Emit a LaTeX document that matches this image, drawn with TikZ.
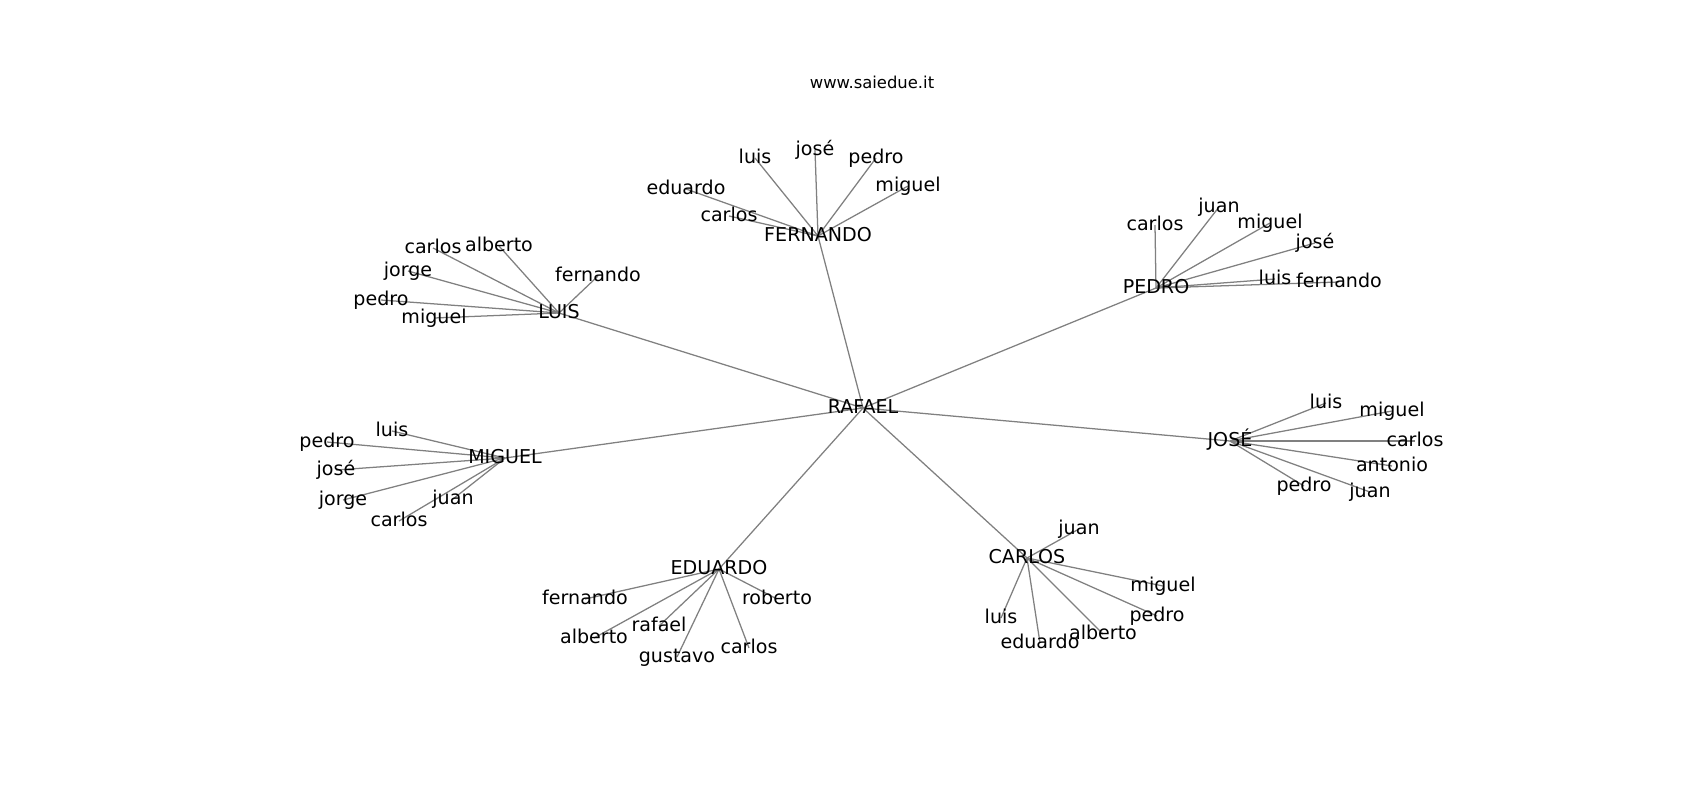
\documentclass[tikz,border=0pt]{standalone}
\usepackage{fontspec}
\setmainfont{DejaVu Sans}
\pgfdeclarelayer{bg}
\pgfsetlayers{bg,main}
\definecolor{edgegray}{RGB}{128,128,128}
\tikzset{
  lbl/.style={font=\fontsize{14.3}{17}\selectfont, text height=10.9pt, text depth=3.0pt, inner sep=0pt, anchor=center},
  ttl/.style={font=\fontsize{12.3}{15}\selectfont, text height=9.4pt, text depth=2.5pt, inner sep=0pt, anchor=center},
  edge/.style={draw=edgegray, line width=0.95pt}
}
\begin{document}
\begin{tikzpicture}[x=0.75pt,y=-0.75pt]
\useasboundingbox (0,0) rectangle (1700,800);
\node[ttl] (title) at (872,84) {www.saiedue.it};
% hubs
\node[lbl] (raf) at (863,408) {RAFAEL};
\node[lbl] (fer) at (818,236) {FERNANDO};
\node[lbl] (ped) at (1156,288) {PEDRO};
\node[lbl] (lui) at (559,313) {LUIS};
\node[lbl] (mig) at (505,458) {MIGUEL};
\node[lbl] (jos) at (1230,441) {JOSÉ};
\node[lbl] (edu) at (719,569) {EDUARDO};
\node[lbl] (car) at (1027,558) {CARLOS};
% FERNANDO leaves
\node[lbl] (fer1) at (755,158) {luis};
\node[lbl] (fer2) at (815,150) {josé};
\node[lbl] (fer3) at (876,158) {pedro};
\node[lbl] (fer4) at (908,186) {miguel};
\node[lbl] (fer5) at (686,189) {eduardo};
\node[lbl] (fer6) at (729,216) {carlos};
% PEDRO leaves
\node[lbl] (ped1) at (1155,225) {carlos};
\node[lbl] (ped2) at (1219,207) {juan};
\node[lbl] (ped3) at (1270,223) {miguel};
\node[lbl] (ped4) at (1315,243) {josé};
\node[lbl] (ped5) at (1275,279) {luis};
\node[lbl] (ped6) at (1339,282) {fernando};
% LUIS leaves
\node[lbl] (lui1) at (433,248) {carlos};
\node[lbl] (lui2) at (499,246) {alberto};
\node[lbl] (lui3) at (408,271) {jorge};
\node[lbl] (lui4) at (381,300) {pedro};
\node[lbl] (lui5) at (434,318) {miguel};
\node[lbl] (lui6) at (598,276) {fernando};
% MIGUEL leaves
\node[lbl] (mig1) at (392,431) {luis};
\node[lbl] (mig2) at (327,442) {pedro};
\node[lbl] (mig3) at (336,470) {josé};
\node[lbl] (mig4) at (343,500) {jorge};
\node[lbl] (mig5) at (453,499) {juan};
\node[lbl] (mig6) at (399,521) {carlos};
% JOSE leaves
\node[lbl] (jos1) at (1326,403) {luis};
\node[lbl] (jos2) at (1392,411) {miguel};
\node[lbl] (jos3) at (1415,441) {carlos};
\node[lbl] (jos4) at (1392,466) {antonio};
\node[lbl] (jos5) at (1304,486) {pedro};
\node[lbl] (jos6) at (1370,492) {juan};
% EDUARDO leaves
\node[lbl] (edu1) at (585,599) {fernando};
\node[lbl] (edu2) at (777,599) {roberto};
\node[lbl] (edu3) at (659,626) {rafael};
\node[lbl] (edu4) at (594,638) {alberto};
\node[lbl] (edu5) at (677,657) {gustavo};
\node[lbl] (edu6) at (749,648) {carlos};
% CARLOS leaves
\node[lbl] (car1) at (1079,529) {juan};
\node[lbl] (car2) at (1163,586) {miguel};
\node[lbl] (car3) at (1157,616) {pedro};
\node[lbl] (car4) at (1001,618) {luis};
\node[lbl] (car5) at (1040,643) {eduardo};
\node[lbl] (car6) at (1103,634) {alberto};
\begin{pgfonlayer}{bg}
\foreach \h in {fer,ped,lui,mig,jos,edu,car}{
  \draw[edge] (raf.center) -- (\h.center);
  \foreach \i in {1,...,6}{
    \draw[edge] (\h.center) -- (\h\i.center);
  }
}
\end{pgfonlayer}
\end{tikzpicture}
\end{document}
